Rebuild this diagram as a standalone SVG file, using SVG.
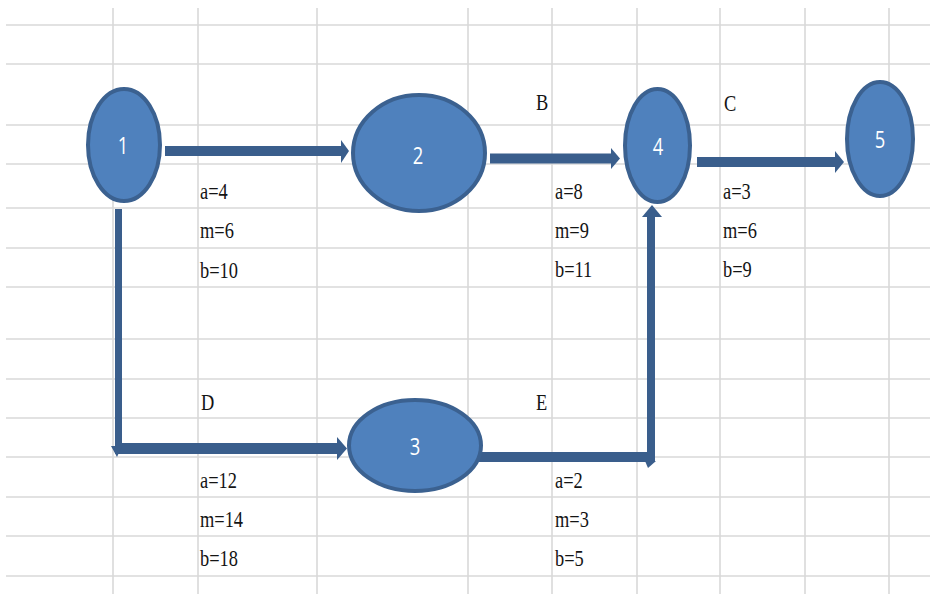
<svg xmlns="http://www.w3.org/2000/svg" width="930" height="594" viewBox="0 0 930 594">
<style>
.grid line{stroke:#d9d9d9;stroke-width:1.6}
.node ellipse{fill:#4f81bd;stroke:#3b6190;stroke-width:4}
.node text{font-family:"Open Sans","Noto Sans",sans-serif;font-size:23px;fill:#ffffff;text-anchor:middle}
.conn line{stroke:#3a5e8c;stroke-linecap:butt}
.conn polygon{fill:#3a5e8c}
.lbl text{font-family:"Liberation Serif","Times New Roman",serif;font-size:23px;fill:#141414}
</style>
<rect width="930" height="594" fill="#ffffff"/>
<g class="grid">
<line x1="6" y1="25" x2="930" y2="25"/>
<line x1="6" y1="64" x2="930" y2="64"/>
<line x1="6" y1="125" x2="930" y2="125"/>
<line x1="6" y1="164" x2="930" y2="164"/>
<line x1="6" y1="208" x2="930" y2="208"/>
<line x1="6" y1="248" x2="930" y2="248"/>
<line x1="6" y1="287" x2="930" y2="287"/>
<line x1="6" y1="339" x2="930" y2="339"/>
<line x1="6" y1="379" x2="930" y2="379"/>
<line x1="6" y1="418" x2="930" y2="418"/>
<line x1="6" y1="457" x2="930" y2="457"/>
<line x1="6" y1="497" x2="930" y2="497"/>
<line x1="6" y1="536" x2="930" y2="536"/>
<line x1="6" y1="576" x2="930" y2="576"/>
<line x1="113" y1="8" x2="113" y2="594"/>
<line x1="198" y1="8" x2="198" y2="594"/>
<line x1="317" y1="8" x2="317" y2="594"/>
<line x1="468" y1="8" x2="468" y2="594"/>
<line x1="552" y1="8" x2="552" y2="594"/>
<line x1="637" y1="8" x2="637" y2="594"/>
<line x1="720" y1="8" x2="720" y2="594"/>
<line x1="805" y1="8" x2="805" y2="594"/>
<line x1="889" y1="8" x2="889" y2="594"/>
</g>
<g id="connectors" class="conn">
<g id="edge-1-2">
<line x1="165" y1="151" x2="342" y2="151" stroke-width="10"/>
<polygon points="341,140 349,151 341,163"/>
</g>
<g id="edge-2-4">
<line x1="490" y1="158.5" x2="612" y2="158.5" stroke-width="10"/>
<polygon points="611,148 620,158.5 611,169"/>
</g>
<g id="edge-4-5">
<line x1="697" y1="162" x2="836" y2="162" stroke-width="10"/>
<polygon points="835,151 844,162 835,173"/>
</g>
<g id="edge-1-3">
<line x1="118.5" y1="209" x2="118.5" y2="453" stroke-width="7"/>
<line x1="115" y1="448.5" x2="338" y2="448.5" stroke-width="11"/>
<polygon points="111,446 122,446 117,457"/>
<polygon points="337,437 347,448.5 337,460"/>
</g>
<g id="edge-3-4">
<line x1="473" y1="457" x2="655" y2="457" stroke-width="10"/>
<line x1="651" y1="462" x2="651" y2="216" stroke-width="8"/>
<polygon points="645,461 656,461 648,468"/>
<polygon points="642,217 652,205 662,217"/>
</g>
</g>
<g id="node-1" class="node">
<ellipse cx="124" cy="145" rx="36" ry="56"/>
<text transform="translate(123 154) scale(0.8 1)">1</text>
</g>
<g id="node-2" class="node">
<ellipse cx="419" cy="153" rx="66" ry="58"/>
<text transform="translate(418 164) scale(0.8 1)">2</text>
</g>
<g id="node-3" class="node">
<ellipse cx="415" cy="445.5" rx="66" ry="45.5"/>
<text transform="translate(415 455) scale(0.8 1)">3</text>
</g>
<g id="node-4" class="node">
<ellipse cx="657.5" cy="145.5" rx="32.5" ry="56.5"/>
<text transform="translate(658 155) scale(0.8 1)">4</text>
</g>
<g id="node-5" class="node">
<ellipse cx="880" cy="139" rx="33" ry="57"/>
<text transform="translate(880 148) scale(0.8 1)">5</text>
</g>
<g id="labels" class="lbl">
<text transform="translate(200 199) scale(0.8 1)">a=4</text>
<text transform="translate(200 238) scale(0.8 1)">m=6</text>
<text transform="translate(200 278) scale(0.8 1)">b=10</text>
<text transform="translate(536 110) scale(0.8 1)">B</text>
<text transform="translate(555 199) scale(0.8 1)">a=8</text>
<text transform="translate(555 238) scale(0.8 1)">m=9</text>
<text transform="translate(555 277) scale(0.8 1)">b=11</text>
<text transform="translate(724 111) scale(0.8 1)">C</text>
<text transform="translate(723 199) scale(0.8 1)">a=3</text>
<text transform="translate(723 238) scale(0.8 1)">m=6</text>
<text transform="translate(723 277) scale(0.8 1)">b=9</text>
<text transform="translate(201 410) scale(0.8 1)">D</text>
<text transform="translate(200 488) scale(0.8 1)">a=12</text>
<text transform="translate(200 527) scale(0.8 1)">m=14</text>
<text transform="translate(200 566) scale(0.8 1)">b=18</text>
<text transform="translate(536 410) scale(0.8 1)">E</text>
<text transform="translate(555 488) scale(0.8 1)">a=2</text>
<text transform="translate(555 527) scale(0.8 1)">m=3</text>
<text transform="translate(555 566) scale(0.8 1)">b=5</text>
</g>
</svg>
